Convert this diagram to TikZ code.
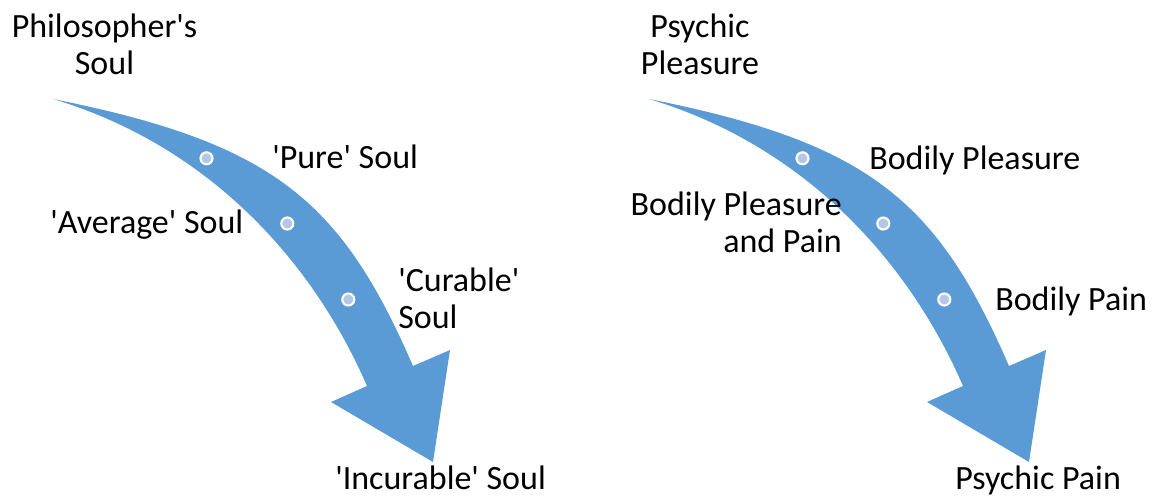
\documentclass[tikz,border=0pt]{standalone}
\usepackage{fontspec}
\setmainfont{Carlito}[Ligatures=TeXOff]
\definecolor{arrowblue}{HTML}{5B9BD5}
\definecolor{dotblue}{HTML}{B4C7E7}
\begin{document}
\begin{tikzpicture}[x=0.75pt,y=-0.75pt,
  lbl/.style={font=\fontsize{25.5}{27.75}\selectfont, inner sep=0pt},
  dotmark/.style={circle, fill=dotblue, draw=white, line width=1.6pt, minimum size=9pt, inner sep=0pt},
  arrowbody/.style={fill=arrowblue, draw=none}]
\useasboundingbox (0,0) rectangle (1154,497);

% left curved arrow
\fill[arrowbody] (53,99) .. controls (273,143) and (341,200) .. (413,366)
  -- (450,350) -- (433,462) -- (331,402) -- (367,386)
  .. controls (315,266) and (213,147) .. (53,99) -- cycle;
\node[dotmark] (l1) at (206.5,158.3) {};
\node[dotmark] (l2) at (287.3,223.5) {};
\node[dotmark] (l3) at (348.3,299.5) {};

% right curved arrow
\begin{scope}[shift={(596,0)}]
\fill[arrowbody] (53,99) .. controls (273,143) and (341,200) .. (413,366)
  -- (450,350) -- (433,462) -- (331,402) -- (367,386)
  .. controls (315,266) and (213,147) .. (53,99) -- cycle;
\node[dotmark] (r1) at (206.5,158.3) {};
\node[dotmark] (r2) at (287.3,223.5) {};
\node[dotmark] (r3) at (348.3,299.5) {};
\end{scope}

% left labels
\node[lbl, anchor=base] (phil) at (104.5,37) {\begin{tabular}[t]{@{}c@{}}Philosopher's\\Soul\end{tabular}};
\node[lbl, anchor=base west] (pure) at (272,168) {'Pure' Soul};
\node[lbl, anchor=base west] (avg) at (50,233) {'Average' Soul};
\node[lbl, anchor=base west] (cur) at (398,291.7) {\begin{tabular}[t]{@{}l@{}}'Curable'\\Soul\end{tabular}};
\node[lbl, anchor=base west] (incur) at (335,489) {'Incurable' Soul};

% right labels
\node[lbl, anchor=base] (psy) at (700,37) {\begin{tabular}[t]{@{}c@{}}Psychic\\Pleasure\end{tabular}};
\node[lbl, anchor=base west] (bp) at (869,169) {Bodily Pleasure};
\node[lbl, anchor=base east] (bpp) at (842,215) {\begin{tabular}[t]{@{}r@{}}Bodily Pleasure\\and Pain\end{tabular}};
\node[lbl, anchor=base west] (bpain) at (995,310) {Bodily Pain};
\node[lbl, anchor=base west] (ppain) at (955,489) {Psychic Pain};
\end{tikzpicture}
\end{document}
